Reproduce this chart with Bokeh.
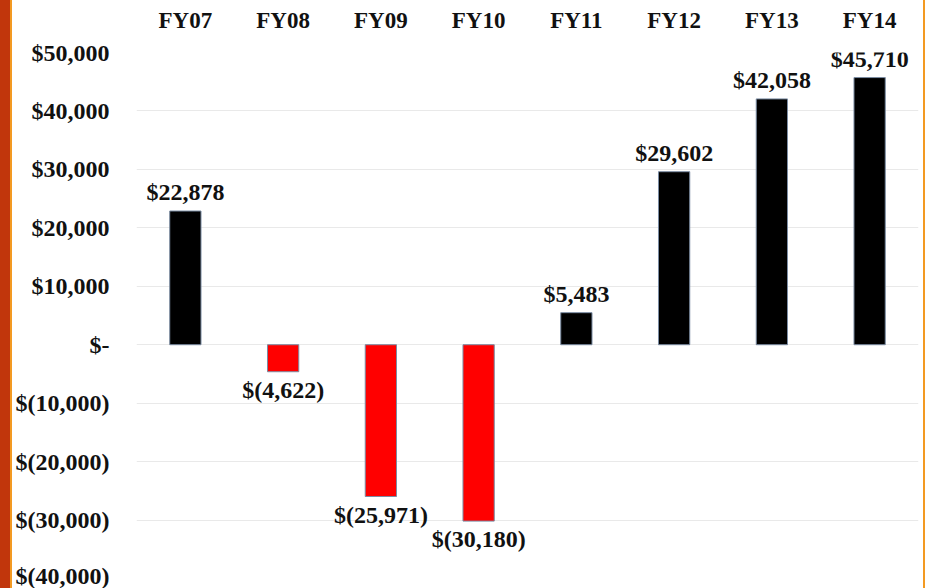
from bokeh.plotting import figure
from bokeh.models import FactorRange, Range1d, FixedTicker, ColumnDataSource, Div
from bokeh.layouts import row
from bokeh.core.properties import value
from bokeh.embed import file_html
from bokeh.resources import INLINE

categories = ["FY07", "FY08", "FY09", "FY10", "FY11", "FY12", "FY13", "FY14"]
values = [22878, -4622, -25971, -30180, 5483, 29602, 42058, 45710]
y_ticks = [-40000, -30000, -20000, -10000, 0, 10000, 20000, 30000, 40000, 50000]
y_tick_labels = ["$(40,000)", "$(30,000)", "$(20,000)", "$(10,000)", "$-",
                 "$10,000", "$20,000", "$30,000", "$40,000", "$50,000"]

FONT = "Liberation Serif"

def fmt(v):
    return f"${v:,}" if v >= 0 else f"$({-v:,})"

colors = ["#000000" if v >= 0 else "#ff0000" for v in values]
src = ColumnDataSource(dict(x=categories, top=values, color=colors))

p = figure(x_range=FactorRange(*categories), y_range=Range1d(-40000, 50000),
           width=911, height=588, output_backend="svg", toolbar_location=None,
           x_axis_location="above",
           min_border_left=124, min_border_right=5, min_border_top=52, min_border_bottom=10)
p.outline_line_color = None
p.background_fill_color = "white"
p.border_fill_color = "white"

p.vbar(x="x", top="top", bottom=0, width=0.32, fill_color="color",
       line_color="#7b8ca3", line_width=1, source=src)

pos = [i for i, v in enumerate(values) if v >= 0]
neg = [i for i, v in enumerate(values) if v < 0]
p.text(x=[categories[i] for i in pos], y=[values[i] for i in pos],
       text=[fmt(values[i]) for i in pos], text_align="center",
       text_baseline="alphabetic", y_offset=-19,
       text_font=value(FONT), text_font_style="bold", text_font_size="24px",
       text_color="#111111")
p.text(x=[categories[i] for i in neg], y=[values[i] for i in neg],
       text=[fmt(values[i]) for i in neg], text_align="center",
       text_baseline="top", y_offset=5,
       text_font=value(FONT), text_font_style="bold", text_font_size="24px",
       text_color="#111111")

p.xgrid.grid_line_color = None
p.ygrid.grid_line_color = "#e9e9e9"
p.ygrid.grid_line_width = 1

p.yaxis.ticker = FixedTicker(ticks=y_ticks)
p.yaxis.major_label_overrides = {t: l for t, l in zip(y_ticks, y_tick_labels)}

for ax in (p.xaxis[0], p.yaxis[0]):
    ax.axis_line_color = None
    ax.major_tick_line_color = None
    ax.minor_tick_line_color = None
    ax.major_tick_out = 0
    ax.major_tick_in = 0
    ax.minor_tick_out = 0
    ax.major_label_text_font = FONT
    ax.major_label_text_font_style = "bold"
    ax.major_label_text_color = "#111111"

p.yaxis.major_label_standoff = 27
p.yaxis.major_label_text_font_size = "24px"
p.xaxis.major_label_text_font_size = "23px"
p.xaxis.major_label_standoff = 20

left_strip = Div(width=12, height=588, margin=0,
                 styles={"background": "linear-gradient(to right, #c1360c 0px, #c1360c 10px, #f39a22 10px, #f39a22 12px)"})
right_strip = Div(width=2, height=588, margin=0, styles={"background": "#f39a22"})

layout = row(left_strip, p, right_strip, spacing=0)

open("out.html", "w").write(file_html(layout, INLINE))
